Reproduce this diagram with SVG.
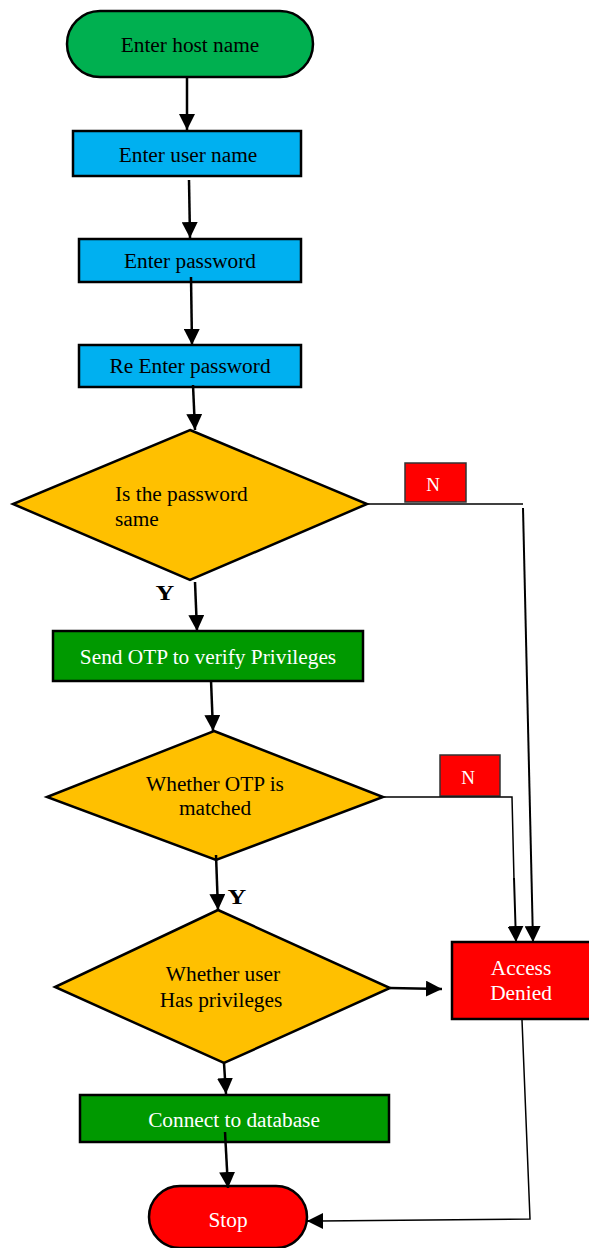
<svg xmlns="http://www.w3.org/2000/svg" width="589" height="1248" viewBox="0 0 589 1248">
<style>
  .shape { stroke: #000; stroke-width: 2.5; }
  .t { font-family: "Liberation Serif", "Times New Roman", serif; font-size: 21.33px; text-anchor: middle; }
  .tl { font-family: "Liberation Serif", "Times New Roman", serif; font-size: 21.33px; }
  .w { fill: #fff; }
  .b { fill: #000; }
  .yl { font-family: "Liberation Serif", "Times New Roman", serif; font-size: 20px; font-weight: bold; text-anchor: middle; fill: #000; }
  .arrow { stroke: #000; stroke-width: 2.5; fill: none; marker-end: url(#ah); }
  .thin { stroke: #000; stroke-width: 1.5; fill: none; }
  .thinA { stroke: #000; stroke-width: 2; fill: none; marker-end: url(#ah); }
</style>
<defs>
  <marker id="ah" markerUnits="userSpaceOnUse" viewBox="0 0 16 16" refX="16" refY="8" markerWidth="16" markerHeight="16" orient="auto">
    <path d="M0,0 L16,8 L0,16 z" fill="#000"/>
  </marker>
</defs>

<g id="start">
  <rect class="shape" x="67" y="11" width="246" height="66" rx="33" fill="#00B050"/>
  <text class="t b" x="190" y="52">Enter host name</text>
</g>
<g id="user">
  <rect class="shape" x="73" y="131" width="228" height="45" fill="#00B0F0"/>
  <text class="t b" x="188" y="162">Enter user name</text>
</g>
<g id="pass">
  <rect class="shape" x="79" y="239" width="222" height="43" fill="#00B0F0"/>
  <text class="t b" x="190" y="268">Enter password</text>
</g>
<g id="repass">
  <rect class="shape" x="79" y="345" width="222" height="42" fill="#00B0F0"/>
  <text class="t b" x="190" y="373">Re Enter password</text>
</g>
<g id="same">
  <polygon class="shape" points="190,430 367,504 190,580 13,504" fill="#FFC000"/>
  <text class="tl b" x="115" y="501">Is the password</text>
  <text class="tl b" x="115" y="526">same</text>
</g>
<g id="n1">
  <rect x="405" y="463" width="61" height="39" fill="#FF0000" stroke="#333" stroke-width="1.5"/>
  <text class="t w" x="433" y="491" style="font-size:19px">N</text>
</g>
<g id="otp">
  <rect class="shape" x="53" y="631" width="310" height="50" fill="#009900"/>
  <text class="t w" x="208" y="664">Send OTP to verify Privileges</text>
</g>
<g id="otpmatch">
  <polygon class="shape" points="214,731 383,797 216,860 47,797" fill="#FFC000"/>
  <text class="t b" x="215" y="791">Whether OTP is</text>
  <text class="t b" x="215" y="815">matched</text>
</g>
<g id="n2">
  <rect x="440" y="755" width="60" height="41" fill="#FF0000" stroke="#333" stroke-width="1.5"/>
  <text class="t w" x="468" y="784" style="font-size:19px">N</text>
</g>
<g id="priv">
  <polygon class="shape" points="218,910 390,988 224,1063 55,987" fill="#FFC000"/>
  <text class="t b" x="223" y="981">Whether user</text>
  <text class="t b" x="221" y="1007">Has privileges</text>
</g>
<g id="denied">
  <rect class="shape" x="452" y="942" width="150" height="77" fill="#FF0000"/>
  <text class="t w" x="521" y="975">Access</text>
  <text class="t w" x="521" y="1000">Denied</text>
</g>
<g id="db">
  <rect class="shape" x="80" y="1095" width="309" height="47" fill="#009900"/>
  <text class="t w" x="234" y="1127">Connect to database</text>
</g>
<g id="stop">
  <rect class="shape" x="149" y="1186" width="158" height="62" rx="31" fill="#FF0000"/>
  <text class="t w" x="228" y="1227">Stop</text>
</g>

<g id="connectors">
  <line class="arrow" x1="187" y1="77" x2="187" y2="130"/>
  <line class="arrow" x1="189" y1="180" x2="190" y2="238"/>
  <line class="arrow" x1="191" y1="277" x2="192" y2="345"/>
  <line class="arrow" x1="193" y1="385" x2="195" y2="430"/>
  <line class="arrow" x1="195" y1="582" x2="197" y2="631"/>
  <line class="arrow" x1="211" y1="680" x2="213" y2="731"/>
  <line class="arrow" x1="216" y1="855" x2="218" y2="910"/>
  <line class="arrow" x1="224" y1="1063" x2="226" y2="1094"/>
  <line class="arrow" x1="225" y1="1132" x2="228" y2="1188"/>
  <line class="arrow" x1="390" y1="988" x2="442" y2="989"/>
  <line class="thin" x1="367" y1="504" x2="523" y2="504"/>
  <line class="thinA" x1="523" y1="508" x2="533" y2="942"/>
  <polyline class="thin" points="383,797 512,797 514,880"/>
  <line class="thinA" x1="514" y1="878" x2="516" y2="942"/>
  <polyline class="thin" points="522,1020 530,1219 320,1221"/>
  <line class="thinA" x1="322" y1="1221" x2="307" y2="1221"/>
  <text class="yl" x="165" y="600" transform="translate(165,600) scale(1.3,1) translate(-165,-600)">Y</text>
  <text class="yl" x="237" y="904" transform="translate(237,904) scale(1.3,1) translate(-237,-904)">Y</text>
</g>
</svg>
